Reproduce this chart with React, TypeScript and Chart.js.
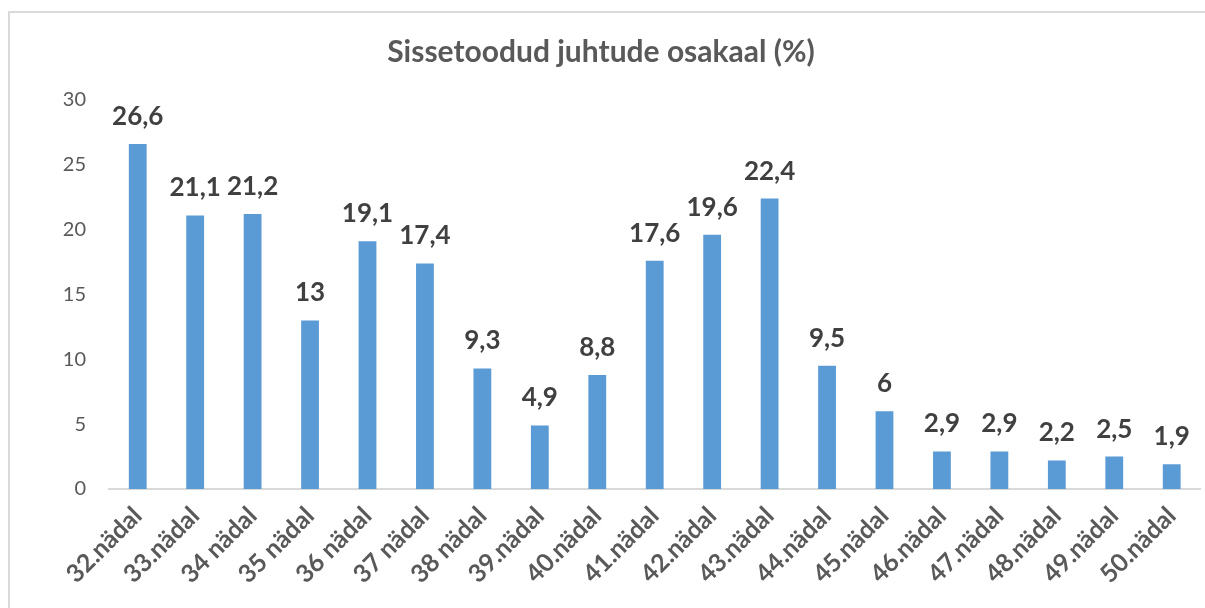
import React, { useEffect, useRef } from "react";
import { Chart, registerables } from "chart.js";

Chart.register(...registerables);

const categories = [
  "32.nädal", "33.nädal", "34 nädal", "35 nädal", "36 nädal", "37 nädal", "38 nädal",
  "39.nädal", "40.nädal", "41.nädal", "42.nädal", "43.nädal", "44.nädal", "45.nädal",
  "46.nädal", "47.nädal", "48.nädal", "49.nädal", "50.nädal",
];
const values = [26.6, 21.1, 21.2, 13, 19.1, 17.4, 9.3, 4.9, 8.8, 17.6, 19.6, 22.4, 9.5, 6, 2.9, 2.9, 2.2, 2.5, 1.9];
const yTicks = [0, 5, 10, 15, 20, 25, 30];
const title = "Sissetoodud juhtude osakaal (%)";

const FONT = "Lato, 'Open Sans', sans-serif";

const dataLabels = {
  id: "dataLabels",
  afterDatasetsDraw(chart: any) {
    const ctx = chart.ctx;
    const meta = chart.getDatasetMeta(0);
    ctx.save();
    ctx.font = `bold 26px ${FONT}`;
    ctx.fillStyle = "#404040";
    ctx.textAlign = "center";
    ctx.textBaseline = "alphabetic";
    meta.data.forEach((bar: any, i: number) => {
      const txt = String(values[i]).replace(".", ",");
      ctx.fillText(txt, bar.x, bar.y - 19);
    });
    ctx.restore();
  },
};

export default function App() {
  const ref = useRef<HTMLCanvasElement>(null);
  useEffect(() => {
    if (!ref.current) return;
    const chart = new Chart(ref.current, {
      type: "bar",
      data: {
        labels: categories,
        datasets: [
          {
            data: values,
            backgroundColor: "#5B9BD5",
            barPercentage: 0.62,
            categoryPercentage: 0.5,
          },
        ],
      },
      options: {
        animation: false,
        responsive: false,
        maintainAspectRatio: false,
        layout: { padding: { left: 0, right: 3, top: 0, bottom: 0 } },
        plugins: {
          legend: { display: false },
          tooltip: { enabled: false },
          title: {
            display: true,
            text: title,
            color: "#595959",
            font: { family: FONT, size: 30, weight: "bold", lineHeight: 1.2 },
            padding: { top: 34, bottom: 30 },
          },
        },
        scales: {
          x: {
            grid: { display: false, drawTicks: false },
            border: { display: true, color: "#d9d9d9", width: 2 },
            ticks: {
              color: "#595959",
              font: { family: FONT, size: 25, weight: "bold" },
              maxRotation: 45,
              minRotation: 45,
              autoSkip: false,
              padding: 12,
            },
            afterFit(scale: any) {
              scale.height = 119;
            },
          },
          y: {
            min: 0,
            max: 30,
            afterBuildTicks(scale: any) {
              scale.ticks = yTicks.map((v) => ({ value: v }));
            },
            grid: { display: false, drawTicks: false },
            border: { display: false },
            ticks: {
              color: "#595959",
              font: { family: FONT, size: 20 },
              padding: 23,
            },
            afterFit(scale: any) {
              scale.width = 109;
            },
          },
        },
      },
      plugins: [dataLabels],
    });
    return () => chart.destroy();
  }, []);

  return (
    <div style={{ position: "absolute", left: 0, top: 0, width: 1205, height: 608, overflow: "hidden", background: "#fff" }}>
      <div
        style={{
          position: "absolute",
          left: 8,
          top: 11,
          width: 1400,
          height: 800,
          border: "2px solid #d9d9d9",
          boxSizing: "border-box",
        }}
      />
      <canvas ref={ref} width={1205} height={608} style={{ position: "absolute", left: 0, top: 0 }} />
    </div>
  );
}
